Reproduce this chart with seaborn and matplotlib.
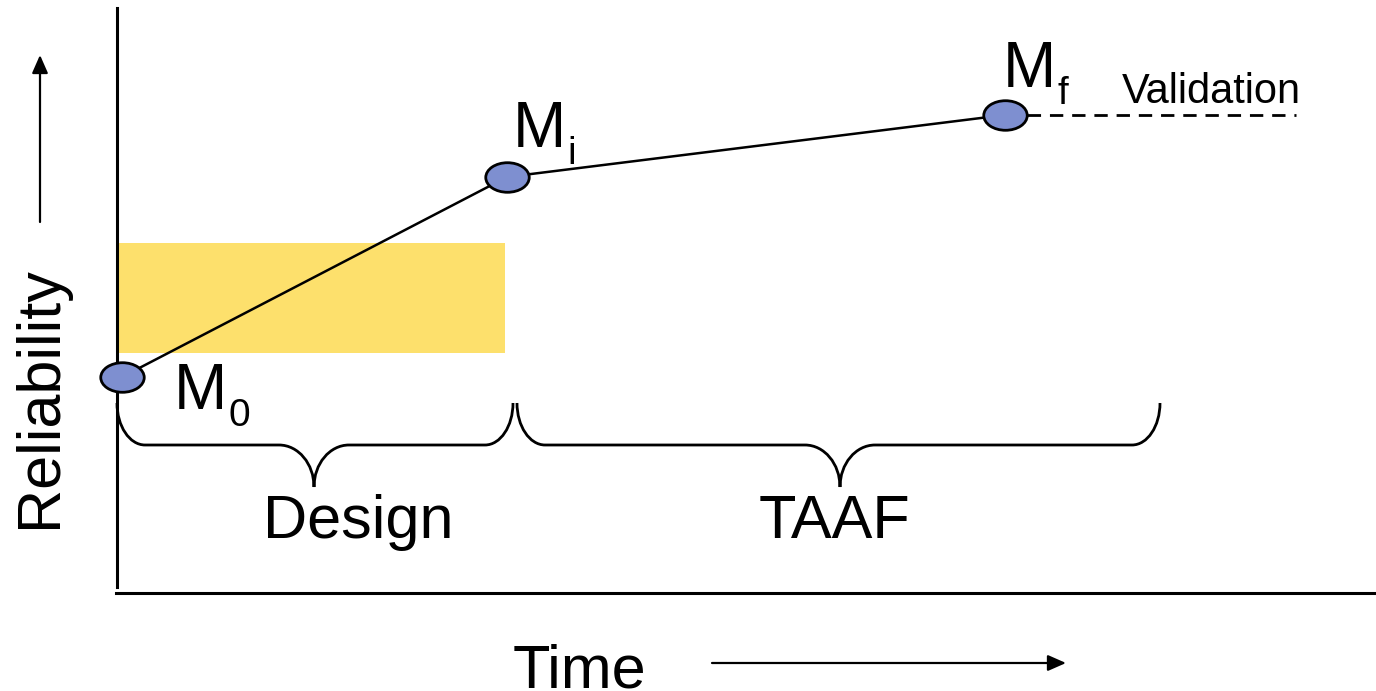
import numpy as np
import pandas as pd
import matplotlib
matplotlib.use('Agg')
import matplotlib.pyplot as plt
from matplotlib.path import Path
from matplotlib.patches import PathPatch, Rectangle
import seaborn as sns

# milestones (time, reliability), arbitrary units
milestones = ['M', 'M', 'M']
subscripts = ['0', 'i', 'f']
ms_time = [0.05, 3.90, 8.88]
ms_rel = [2.16, 4.16, 4.78]

# validation segment after M_f
valid_time = [8.88, 11.79]
valid_rel = [4.78, 4.78]

# design band (yellow)
band_time = [0.0, 3.88]
band_rel = [2.40, 3.50]

# phases under braces
phases = ['Design', 'TAAF']
phase_start = [0.0, 4.00]
phase_end = [3.96, 10.43]
phase_tip = [1.97, 7.23]
phase_label_x = [2.41, 7.18]

sns.set_theme(style='white')
plt.rcParams['font.family'] = ['Liberation Sans', 'DejaVu Sans']
plt.rcParams['text.color'] = 'black'

fig = plt.figure(figsize=(13.76, 6.91), dpi=100)
ax = fig.add_axes([0, 0, 1, 1])
ax.set_xlim(-1.17, 12.59)
ax.set_ylim(-0.98, 5.93)

# axis lines
for s in ['top', 'right']:
    ax.spines[s].set_visible(False)
ax.spines['left'].set_position(('data', 0))
ax.spines['left'].set_bounds(0.06, 5.85)
ax.spines['bottom'].set_position(('data', 0))
ax.spines['bottom'].set_bounds(-0.01, 12.59)
for s in ['left', 'bottom']:
    ax.spines[s].set_linewidth(2.2)
    ax.spines[s].set_color('black')
ax.set_xticks([])
ax.set_yticks([])

# yellow band
ax.add_patch(Rectangle((band_time[0], band_rel[0]), band_time[1] - band_time[0],
                       band_rel[1] - band_rel[0], facecolor='#FDE06C',
                       edgecolor='none', zorder=1))

df = pd.DataFrame({'time': ms_time, 'rel': ms_rel})
sns.lineplot(data=df, x='time', y='rel', color='black', lw=1.8, sort=False,
             ax=ax, zorder=3)
sns.lineplot(x=valid_time, y=valid_rel, color='black', lw=2.0, ax=ax,
             linestyle=(0, (4.8, 3.2)), zorder=3)

# elliptical markers
circ = Path.unit_circle()
ell = Path(circ.vertices * np.array([1.0, 0.68]), circ.codes)
sns.scatterplot(data=df, x='time', y='rel', marker=ell, s=980,
                color='#7E8FD0', edgecolor='black', linewidth=2.0,
                ax=ax, zorder=4)

# milestone labels (offset pixels from the point)
lab_off = [(52, -32), (6, 30), (-2, 28)]
for t, r, m, sub, (dx, dy) in zip(ms_time, ms_rel, milestones, subscripts, lab_off):
    ax.annotate(m, (t, r), xytext=(dx, dy), textcoords='offset pixels',
                fontsize=46, ha='left', va='baseline', zorder=5)
    ax.annotate(sub, (t, r), xytext=(dx + 54, dy - 17), textcoords='offset pixels',
                fontsize=28, ha='left', va='baseline', zorder=5)

ax.text(10.05, 4.90, 'Validation', fontsize=30, ha='left', va='baseline')


def brace(x0, x1, xc, ytop=1.90, ymid=1.48, ytip=1.06, rx=0.28, rcx=0.35):
    k = 0.5523
    ry = ytop - ymid
    rcy = ymid - ytip
    verts = [
        (x0, ytop), (x0, ytop - k * ry), (x0 + rx - k * rx, ymid), (x0 + rx, ymid),
        (xc - rcx, ymid),
        (xc - rcx + k * rcx, ymid), (xc, ymid - rcy + k * rcy), (xc, ytip),
        (xc, ytip + k * rcy), (xc + rcx - k * rcx, ymid), (xc + rcx, ymid),
        (x1 - rx, ymid),
        (x1 - rx + k * rx, ymid), (x1, ytop - k * ry), (x1, ytop),
    ]
    codes = [Path.MOVETO] + [Path.CURVE4] * 3 + [Path.LINETO] + [Path.CURVE4] * 6 \
        + [Path.LINETO] + [Path.CURVE4] * 3
    return PathPatch(Path(verts, codes), fill=False, lw=2.0, edgecolor='black',
                     capstyle='butt', zorder=3)


for x0, x1, xc, lx, name in zip(phase_start, phase_end, phase_tip, phase_label_x, phases):
    ax.add_patch(brace(x0, x1, xc))
    ax.text(lx, 0.55, name, fontsize=44, ha='center', va='baseline')

# axis titles with arrows
ax.text(-0.61, 1.96, 'Reliability', fontsize=44, rotation=90, ha='center',
        va='baseline', rotation_mode='anchor')
ax.text(3.96, -0.95, 'Time', fontsize=44, ha='left', va='baseline')

arrow = dict(arrowstyle='-|>,head_length=0.5,head_width=0.22', color='black',
             lw=1.6, mutation_scale=22, shrinkA=0, shrinkB=0)
ax.annotate('', xy=(-0.77, 5.38), xytext=(-0.77, 3.71), arrowprops=arrow,
            annotation_clip=False)
ax.annotate('', xy=(9.49, -0.70), xytext=(5.95, -0.70), arrowprops=arrow,
            annotation_clip=False)

ax.set_xlabel('')
ax.set_ylabel('')
fig.savefig('out.png', dpi=100)
